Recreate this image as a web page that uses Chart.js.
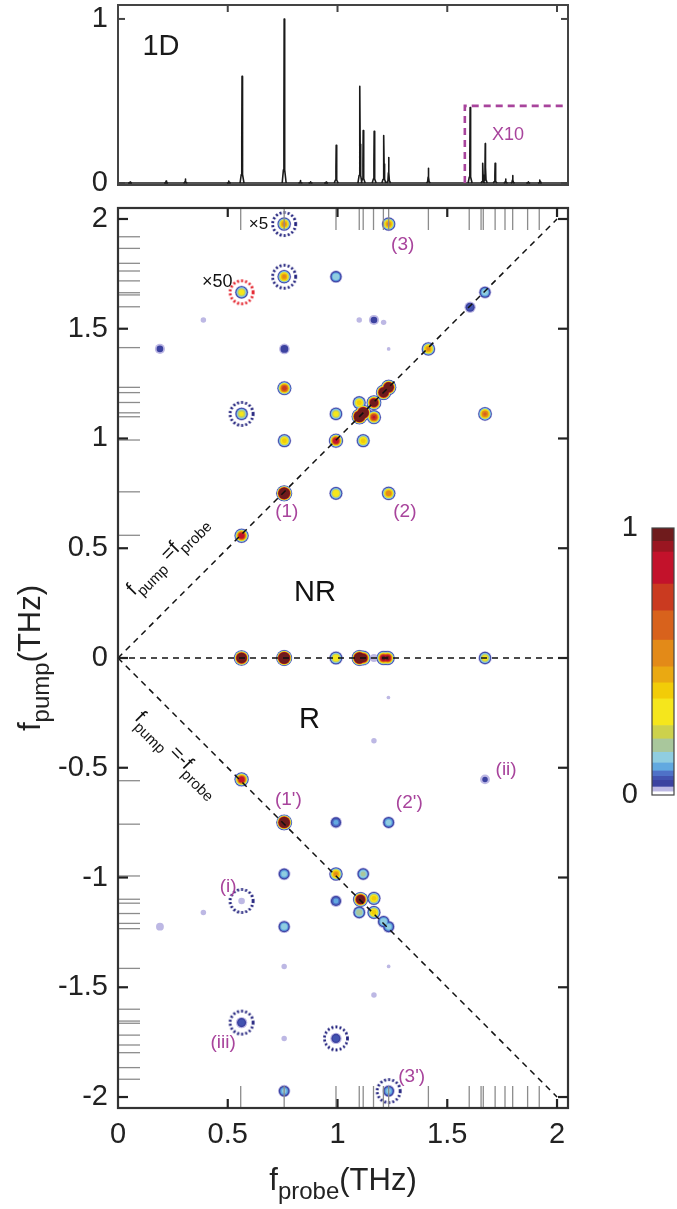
<!DOCTYPE html>
<html><head><meta charset="utf-8">
<script src="https://cdn.jsdelivr.net/npm/chart.js@4.4.1/dist/chart.umd.min.js"></script>
<style>
html,body{margin:0;padding:0;background:#fff;}
#wrap{position:relative;width:677px;height:1209px;overflow:hidden;}
canvas{position:absolute;display:block;}
</style></head><body>
<div id="wrap">
<canvas id="c1" width="677" height="200" style="left:0;top:0"></canvas>
<canvas id="c2" width="677" height="1014" style="left:0;top:195px"></canvas>
<canvas id="c3" width="137" height="320" style="left:540px;top:500px"></canvas>
</div>
<script>
// ---------------- DATA ----------------
// mode frequencies (THz) marked by grey ticks on the axes
const modeFreqs = [0.559,0.757,0.993,1.099,1.117,1.164,1.209,1.233,1.414,1.600,1.654,1.664,1.718,1.763,1.798,1.866,1.919];
// 1D spectrum peaks
const spec1DPos = [0.055,0.219,0.307,0.505,0.565,0.757,0.831,0.877,0.948,0.994,1.102,1.117,1.167,1.211,1.233,1.414,1.604,1.662,1.673,1.718,1.766,1.798,1.869,1.922];
const spec1DAmp = [0.006,0.012,0.025,0.012,0.65,1.0,0.015,0.008,0.006,0.23,0.59,0.32,0.315,0.29,0.155,0.09,0.46,0.12,0.24,0.12,0.025,0.045,0.008,0.018];
// x10 box (top panel)
const x10BoxX = [1.58,1.58,2.05];
const x10BoxY = [0,0.47,0.47];
// 2D peaks: probe freq, pump freq, normalised amplitude (values > 1 saturate)
const peakX = [0.757,1.233,0.757,0.993,0.563,1.672,1.604,0.389,1.099,1.166,1.210,0.191,0.758,1.233,1.414,0.758,1.210,1.233,1.099,1.166,1.100,1.117,1.166,0.993,0.563,1.672,0.758,0.993,1.117,0.757,0.993,1.233,0.563,
  0.563,0.757,0.993,1.100,1.117,1.166,1.210,1.228,1.672,
  1.232,1.166,0.563,1.672,0.757,0.993,1.233,0.757,0.993,1.117,0.563,0.993,1.105,1.166,1.099,1.166,1.210,1.233,0.389,0.191,0.757,0.757,1.233,1.166,0.563,0.757,0.993,0.757,1.233];
const peakY = [1.977,1.977,1.737,1.737,1.666,1.666,1.598,1.540,1.540,1.540,1.529,1.408,1.408,1.408,1.408,1.229,1.210,1.233,1.163,1.163,1.100,1.117,1.097,1.112,1.112,1.112,0.990,0.990,0.990,0.750,0.750,0.750,0.557,
  0,0,0,0,0,0,0,0,0,
  -0.180,-0.377,-0.553,-0.553,-0.749,-0.749,-0.749,-0.984,-0.984,-0.984,-1.107,-1.107,-1.100,-1.095,-1.159,-1.159,-1.201,-1.224,-1.159,-1.224,-1.224,-1.405,-1.405,-1.535,-1.661,-1.733,-1.733,-1.973,-1.973];
const peakAmp = [0.5,0.5,0.5,0.16,0.3,0.15,0.07,0.014,0.014,0.04,0.014,0.04,0.05,0.0125,0.5,0.75,2.5,2.5,0.4,1.5,4.0,4.0,0.8,0.3,0.28,0.6,0.4,0.9,0.4,5.0,0.35,0.55,0.9,
  3.0,5.0,0.35,4.0,1.5,0.02,1.0,1.0,0.3,
  0.0125,0.014,0.9,0.035,4.0,0.1,0.14,0.14,0.5,0.18,0.016,0.1,1.8,0.4,0.2,0.4,0.16,0.14,0.014,0.02,0.15,0.014,0.0125,0.014,0.07,0.014,0.07,0.13,0.13];
// circled peaks
const navyCircleX = [0.757,0.757,0.563,0.563,0.563,0.993,1.233];
const navyCircleY = [1.977,1.737,1.112,-1.107,-1.661,-1.733,-1.973];
const redCircleX = [0.563];
const redCircleY = [1.666];
// dashed guide lines
const diagUpX = [0,2], diagUpY = [0,2];
const diagDownX = [0,2], diagDownY = [0,-2];
const zeroLineX = [0,2.05], zeroLineY = [0,0];
// colormap (lower bound of each band) and colours
const contourLevels = [0.012,0.030,0.055,0.070,0.090,0.120,0.160,0.210,0.260,0.360,0.420,0.480,0.580,0.690,0.790,0.910,0.950];
const contourColors = ['#bdb8e4','#3c42a0','#4253b0','#4f72c8','#62a9e0','#90cde0','#a9c79c','#cdd14c','#f5e61c','#f2cc08','#eaa912','#e38a18','#d8621c','#ca3a20','#c3122b','#9a1621','#6f1b1c'];
// ticks
const xTickValues = [0,0.5,1,1.5,2];
const yTickValues = [-2,-1.5,-1,-0.5,0,0.5,1,1.5,2];
const top1DTicks = [0,1];
const colorbarTicks = [0,1];
// annotations
const magLabels = ['(3)','(1)','(2)',"(1')","(2')",'(ii)','(i)','(iii)',"(3')"];
const magLabelX = [1.297,0.769,1.307,0.776,1.327,1.768,0.502,0.479,1.338];
const magLabelY = [1.882,0.667,0.667,-0.647,-0.659,-0.507,-1.042,-1.755,-1.907];

// ---------------- RENDER ----------------
const FONT = "'Liberation Sans', Arial, Helvetica, sans-serif";
const MAG = '#a8449c';
function line(ctx,x1,y1,x2,y2){ctx.beginPath();ctx.moveTo(x1,y1);ctx.lineTo(x2,y2);ctx.stroke();}
function drawRich(ctx,segs,x,y,angle,align){
  ctx.save();ctx.translate(x,y);ctx.rotate(angle);
  ctx.textAlign='left';ctx.textBaseline='alphabetic';
  let total=0;
  segs.forEach(s=>{ctx.font=s.size+'px '+FONT;s.w=ctx.measureText(s.t).width;total+=s.w;});
  let cx = align==='center' ? -total/2 : 0;
  segs.forEach(s=>{ctx.font=s.size+'px '+FONT;ctx.fillText(s.t,cx,s.dy||0);cx+=s.w;});
  ctx.restore();
}
function text(ctx,t,x,y,size,color){
  ctx.save();ctx.font=size+'px '+FONT;ctx.fillStyle=color;ctx.textAlign='center';ctx.textBaseline='middle';ctx.fillText(t,x,y);ctx.restore();
}
function noPad(s){s.paddingTop=0;s.paddingBottom=0;s.paddingLeft=0;s.paddingRight=0;}
const tickFont = {family:FONT,size:29};

// ---- top 1D panel ----
const specPts = [];
const shapeOff = [-0.009,-0.0035,-0.0012,0,0.0012,0.0035,0.009];
const shapeFac = [0,0.08,0.4,1,0.4,0.08,0];
spec1DPos.forEach((p,i)=>{
  shapeOff.forEach((o,k)=>specPts.push({x:p+o,y:spec1DAmp[i]*shapeFac[k]}));
  specPts.push({x:p+0.0095,y:null});
});
const topPlugin = {id:'topDeco',afterDatasetsDraw(chart){
  const ctx=chart.ctx,a=chart.chartArea,xs=chart.scales.x,ys=chart.scales.y;
  ctx.save();
  ctx.strokeStyle='#444';ctx.lineWidth=2;
  ctx.strokeRect(a.left,a.top,a.right-a.left,a.bottom-a.top);
  xTickValues.forEach(v=>{if(v<=0)return;const p=xs.getPixelForValue(v);line(ctx,p,a.top,p,a.top+7);});
  top1DTicks.forEach(v=>{const p=ys.getPixelForValue(v);line(ctx,a.left,p,a.left+7,p);line(ctx,a.right,p,a.right-7,p);});
  text(ctx,'1D',xs.getPixelForValue(0.196),ys.getPixelForValue(0.829),29,'#1a1a1a');
  text(ctx,'X10',xs.getPixelForValue(1.777),ys.getPixelForValue(0.293),18,MAG);
  ctx.restore();
}};
new Chart(document.getElementById('c1'),{
  type:'scatter',
  data:{datasets:[
    {data:[{x:0,y:0},{x:2.05,y:0}],showLine:true,pointRadius:0,borderColor:'#1a1a1a',borderWidth:1.6,order:3},
    {data:specPts,showLine:true,spanGaps:false,pointRadius:0,borderColor:'#1a1a1a',borderWidth:1.6,borderJoinStyle:'round',order:2},
    {data:x10BoxX.map((x,i)=>({x,y:x10BoxY[i]})),showLine:true,pointRadius:0,borderColor:MAG,borderWidth:2.6,borderDash:[7,5],order:1}
  ]},
  options:{responsive:false,animation:false,events:[],
    layout:{padding:{left:0,right:109,top:5,bottom:15}},
    plugins:{legend:{display:false},tooltip:{enabled:false}},
    scales:{
      x:{type:'linear',min:0,max:2.05,display:false},
      y:{type:'linear',min:-0.012,max:1.085,grid:{display:false,drawTicks:false},border:{display:false},
        afterBuildTicks:s=>{s.ticks=top1DTicks.map(v=>({value:v}));},
        afterFit:s=>{s.width=118;noPad(s);},
        ticks:{font:tickFont,color:'#222',padding:10,callback:v=>String(v)}}
    }},
  plugins:[topPlugin]
});

// ---- main 2D panel ----
const W=4.8;
function ringRadius(a,l){return W*Math.pow(Math.log(a/l),0.3);}
const contourSets = contourLevels.map((lvl,j)=>{
  const pts=[],rad=[];
  peakX.forEach((x,i)=>{if(peakAmp[i]>lvl){pts.push({x,y:peakY[i]});rad.push(ringRadius(peakAmp[i],lvl));}});
  return {data:pts,pointRadius:rad,pointHoverRadius:rad,pointBackgroundColor:contourColors[j],pointBorderWidth:0,pointBorderColor:'rgba(0,0,0,0)',showLine:false,order:100-j};
});
function dottedCircle(color){
  const c=document.createElement('canvas');c.width=30;c.height=30;
  const g=c.getContext('2d');g.strokeStyle=color;g.lineWidth=2.8;g.setLineDash([2,2.1]);
  g.beginPath();g.arc(15,15,11.5,0,Math.PI*2);g.stroke();return c;
}
const navyCirc=dottedCircle('#23237e'), redCirc=dottedCircle('#e3202a');
const mainPlugin={id:'mainDeco',afterDatasetsDraw(chart){
  const ctx=chart.ctx,a=chart.chartArea,xs=chart.scales.x,ys=chart.scales.y;
  ctx.save();
  // grey mode ticks
  ctx.strokeStyle='#8c8c8c';ctx.lineWidth=1.3;
  modeFreqs.forEach(f=>{
    const p=xs.getPixelForValue(f);line(ctx,p,a.top,p,a.top+22);line(ctx,p,a.bottom,p,a.bottom-22);
    [f,-f].forEach(v=>{const q=ys.getPixelForValue(v);line(ctx,a.left,q,a.left+22,q);});
  });
  // frame
  ctx.strokeStyle='#333';ctx.lineWidth=2.2;
  ctx.strokeRect(a.left,a.top,a.right-a.left,a.bottom-a.top);
  // inward ticks
  ctx.strokeStyle='#222';ctx.lineWidth=2.2;
  xTickValues.forEach(v=>{if(v<=0)return;const p=xs.getPixelForValue(v);line(ctx,p,a.top,p,a.top+9);line(ctx,p,a.bottom,p,a.bottom-9);});
  yTickValues.forEach(v=>{const p=ys.getPixelForValue(v);line(ctx,a.left,p,a.left+10,p);line(ctx,a.right,p,a.right-10,p);});
  // labels
  magLabels.forEach((t,i)=>text(ctx,t,xs.getPixelForValue(magLabelX[i]),ys.getPixelForValue(magLabelY[i]),19,MAG));
  text(ctx,'\u00d75',xs.getPixelForValue(0.640),ys.getPixelForValue(1.977),17,'#111');
  text(ctx,'\u00d750',xs.getPixelForValue(0.452),ys.getPixelForValue(1.714),18,'#111');
  text(ctx,'NR',xs.getPixelForValue(0.897),ys.getPixelForValue(0.295),29,'#111');
  text(ctx,'R',xs.getPixelForValue(0.872),ys.getPixelForValue(-0.282),29,'#111');
  ctx.fillStyle='#111';
  drawRich(ctx,[{t:'f',size:20},{t:'pump',size:15,dy:7},{t:' =f',size:20},{t:'probe',size:15,dy:7}],
    xs.getPixelForValue(0.073),ys.getPixelForValue(0.282),-Math.PI/4,'left');
  drawRich(ctx,[{t:'f',size:20},{t:'pump',size:15,dy:7},{t:' =-f',size:20},{t:'probe',size:15,dy:7}],
    xs.getPixelForValue(0.073),ys.getPixelForValue(-0.278),Math.PI/4,'left');
  // axis titles
  ctx.fillStyle='#222';
  drawRich(ctx,[{t:'f',size:31},{t:'probe',size:24,dy:9},{t:'(THz)',size:31}],(a.left+a.right)/2,a.bottom+82,0,'center');
  drawRich(ctx,[{t:'f',size:31},{t:'pump',size:24,dy:9},{t:'(THz)',size:31}],40,(a.top+a.bottom)/2,-Math.PI/2,'center');
  ctx.restore();
}};
new Chart(document.getElementById('c2'),{
  type:'scatter',
  data:{datasets:[
    ...contourSets,
    {data:navyCircleX.map((x,i)=>({x,y:navyCircleY[i]})),pointStyle:navyCirc,pointRadius:12,showLine:false,order:5},
    {data:redCircleX.map((x,i)=>({x,y:redCircleY[i]})),pointStyle:redCirc,pointRadius:12,showLine:false,order:5},
    {data:diagUpX.map((x,i)=>({x,y:diagUpY[i]})),showLine:true,pointRadius:0,borderColor:'#111',borderWidth:1.5,borderDash:[6,5],order:1},
    {data:diagDownX.map((x,i)=>({x,y:diagDownY[i]})),showLine:true,pointRadius:0,borderColor:'#111',borderWidth:1.5,borderDash:[6,5],order:1},
    {data:zeroLineX.map((x,i)=>({x,y:zeroLineY[i]})),showLine:true,pointRadius:0,borderColor:'#111',borderWidth:1.5,borderDash:[6,5],order:1}
  ]},
  options:{responsive:false,animation:false,events:[],
    layout:{padding:{left:0,right:109,top:13,bottom:0}},
    plugins:{legend:{display:false},tooltip:{enabled:false}},
    scales:{
      x:{type:'linear',min:0,max:2.05,grid:{display:false,drawTicks:false},border:{display:false},
        afterBuildTicks:s=>{s.ticks=xTickValues.map(v=>({value:v}));},
        afterFit:s=>{s.height=101;noPad(s);},
        ticks:{font:tickFont,color:'#222',padding:10,maxRotation:0,autoSkip:false,callback:v=>String(v)}},
      y:{type:'linear',min:-2.05,max:2.05,grid:{display:false,drawTicks:false},border:{display:false},
        afterBuildTicks:s=>{s.ticks=yTickValues.map(v=>({value:v}));},
        afterFit:s=>{s.width=118;noPad(s);},
        ticks:{font:tickFont,color:'#222',padding:10,autoSkip:false,callback:v=>String(v)}}
    }},
  plugins:[mainPlugin]
});

// ---- colorbar ----
const cbBounds=[0,...contourLevels,1];
const cbColors=['#ffffff',...contourColors];
const cbSets=cbColors.map((c,i)=>({data:[cbBounds[i+1]-cbBounds[i]],backgroundColor:c,borderWidth:0,barPercentage:1,categoryPercentage:1}));
const cbPlugin={id:'cbDeco',afterDatasetsDraw(chart){
  const ctx=chart.ctx,a=chart.chartArea;ctx.save();ctx.strokeStyle='#444';ctx.lineWidth=1.2;
  ctx.strokeRect(a.left,a.top,a.right-a.left,a.bottom-a.top);ctx.restore();
}};
new Chart(document.getElementById('c3'),{
  type:'bar',
  data:{labels:['c'],datasets:cbSets},
  options:{responsive:false,animation:false,events:[],
    layout:{padding:{left:0,right:3,top:28,bottom:25}},
    plugins:{legend:{display:false},tooltip:{enabled:false}},
    scales:{
      x:{stacked:true,display:false},
      y:{stacked:true,min:0,max:1,grid:{display:false,drawTicks:false},border:{display:false},
        afterBuildTicks:s=>{s.ticks=colorbarTicks.map(v=>({value:v}));},
        afterFit:s=>{s.width=112;noPad(s);},
        ticks:{font:tickFont,color:'#222',padding:14,callback:v=>String(v)}}
    }},
  plugins:[cbPlugin]
});
</script>
</body></html>
